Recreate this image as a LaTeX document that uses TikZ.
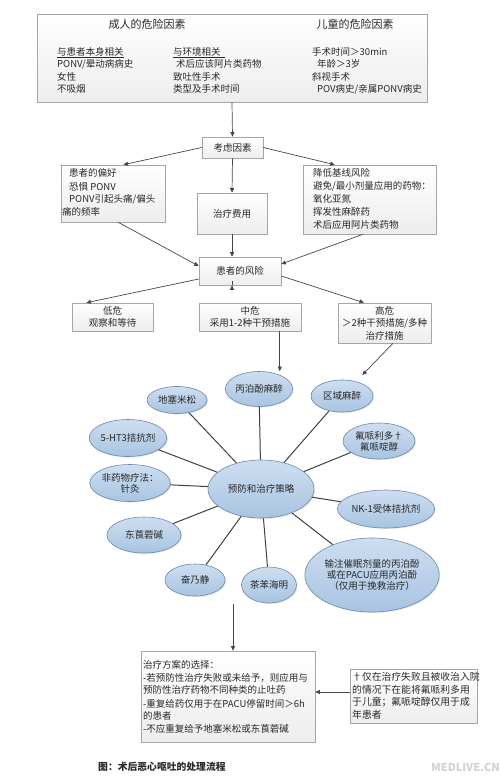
\documentclass[tikz,border=0pt]{standalone}
\usepackage{fontspec}
\setmainfont{Noto Sans CJK SC}
\usetikzlibrary{shapes.geometric,arrows.meta,shadows,calc}
\definecolor{bubfill}{RGB}{168,196,226}
\definecolor{bubtop}{RGB}{206,222,240}
\definecolor{bubline}{RGB}{108,136,170}
\definecolor{txtc}{RGB}{40,40,40}
\newcommand{\bodyf}{\fontsize{9.5}{12}\selectfont}
\newcommand{\titf}{\fontsize{11}{13}\selectfont}
\tikzset{
  box/.style={rectangle, draw=gray!70, line width=0.6pt, top color=white, bottom color=gray!14,
    drop shadow={opacity=0.25, shadow xshift=1.2pt, shadow yshift=-1.2pt}, inner sep=0pt},
  bub/.style={ellipse, draw=bubline, line width=0.6pt, top color=bubtop, bottom color=bubfill,
    inner sep=0pt, align=center, font=\bodyf, text=txtc,
    drop shadow={opacity=0.2, shadow xshift=1pt, shadow yshift=-1pt}},
  arr/.style={draw=gray!55!black, line width=0.7pt, -{Triangle[length=4.5pt,width=4pt]}},
  spoke/.style={draw=black!75, line width=1pt},
  txt/.style={anchor=west, inner sep=0pt, text=txtc, font=\bodyf},
  ctxt/.style={inner sep=0pt, text=txtc, font=\bodyf, align=center},
  uln/.style={draw=txtc, line width=0.5pt},
}
\begin{document}
\begin{tikzpicture}[x=1pt,y=-1pt]
\useasboundingbox (0,0) rectangle (500,778);
% top box
\node[box, minimum width=390pt, minimum height=88pt] (top) at (232,58) {};
\node[ctxt, font=\titf] (ta) at (147,24) {成人的危险因素};
\node[ctxt, font=\titf] (tc) at (355,24) {儿童的危险因素};
\node[txt] (a1) at (57,52) {与患者本身相关};
\node[txt] (a2) at (57,64) {PONV/晕动病病史};
\node[txt] (a3) at (57,77) {女性};
\node[txt] (a4) at (57,89) {不吸烟};
\node[txt] (b1) at (173,52) {与环境相关};
\node[txt] (b2) at (176,64) {术后应该阿片类药物};
\node[txt] (b3) at (173,77) {致吐性手术};
\node[txt] (b4) at (173,89) {类型及手术时间};
\node[txt] (c1) at (312,52) {手术时间＞30min};
\node[txt] (c2) at (317,64) {年龄＞3岁};
\node[txt] (c3) at (312,77) {斜视手术};
\node[txt] (c4) at (317,89) {POV病史/亲属PONV病史};
\draw[uln] ([yshift=-1pt]a1.south west) -- ([yshift=-1pt]a1.south east);
\draw[uln] ([yshift=-1pt]b1.south west) -- ([yshift=-1pt,xshift=4pt]b1.south east);
% consider
\node[box, minimum width=61pt, minimum height=21pt, font=\bodyf, text=txtc] (kl) at (232.5,147.5) {考虑因素};
\node[box, minimum width=104pt, minimum height=57pt] (pref) at (113,193.5) {};
\node[txt] (p1) at (69,173) {患者的偏好};
\node[txt] (p2) at (69,187) {恐惧 PONV};
\node[txt] (p3) at (69,199) {PONV引起头痛/偏头};
\node[txt] (p4) at (62,212) {痛的频率};
\node[box, minimum width=70pt, minimum height=41pt, font=\bodyf, text=txtc] (cost) at (232,213.5) {治疗费用};
\node[box, minimum width=133pt, minimum height=69pt] (base) at (369.5,199.5) {};
\node[txt] (q1) at (313,173) {降低基线风险};
\node[txt] (q2) at (313,186) {避免/最小剂量应用的药物：};
\node[txt] (q3) at (313,199) {氧化亚氮};
\node[txt] (q4) at (313,212) {挥发性麻醉药};
\node[txt] (q5) at (313,225) {术后应用阿片类药物};
% risk
\node[box, minimum width=82pt, minimum height=28pt, font=\bodyf, text=txtc] (risk) at (240,271) {患者的风险};
\node[box, minimum width=81pt, minimum height=28pt] (low) at (112.5,317) {};
\node[ctxt] (l1) at (112.5,311) {低危};
\node[ctxt] (l2) at (112.5,323) {观察和等待};
\node[box, minimum width=102pt, minimum height=28pt] (mid) at (250,317) {};
\node[ctxt] (m1) at (250,311) {中危};
\node[ctxt] (m2) at (250,323) {采用1-2种干预措施};
\node[box, minimum width=93pt, minimum height=40pt] (high) at (384.5,323) {};
\node[ctxt] (h1) at (384.5,311) {高危};
\node[ctxt] (h2) at (384.5,323) {＞2种干预措施/多种};
\node[ctxt] (h3) at (384.5,336) {治疗措施};
% bubbles
\node[bub, minimum width=106pt, minimum height=58pt] (strat) at (261,489) {预防和治疗策略};
\node[bub, minimum width=55pt, minimum height=35pt] (prop) at (259,389) {丙泊酚麻醉};
\node[bub, minimum width=60pt, minimum height=27pt] (dex) at (177,400) {地塞米松};
\node[bub, minimum width=62pt, minimum height=32pt] (reg) at (342,396) {区域麻醉};
\node[bub, minimum width=67pt, minimum height=37pt] (ht) at (128,438) {5-HT3拮抗剂};
\node[bub, minimum width=72pt, minimum height=36pt] (dro) at (379,441) {氟哌利多†\\[-1pt]氟哌啶醇};
\node[bub, minimum width=71pt, minimum height=37pt] (acu) at (130,483) {非药物疗法：\\[-1pt]针灸};
\node[bub, minimum width=75pt, minimum height=38pt] (nk) at (386,509) {NK-1受体拮抗剂};
\node[bub, minimum width=74pt, minimum height=36pt] (sco) at (144,535) {东莨菪碱};
\node[bub, minimum width=60pt, minimum height=32pt] (per) at (195,580) {奋乃静};
\node[bub, minimum width=55pt, minimum height=36pt] (dim) at (269,585) {茶苯海明};
\node[bub, minimum width=114pt, minimum height=74pt] (inf) at (372,575) {输注催眠剂量的丙泊酚\\[-1pt]或在PACU应用丙泊酚\\[-1pt]（仅用于挽救治疗）};
\foreach \b in {prop,dex,reg,ht,dro,acu,nk,sco,per,dim,inf}
  \draw[spoke] (strat) -- (\b);
% plan & note
\node[box, minimum width=174pt, minimum height=91pt] (plan) at (228,696.5) {};
\node[txt] (r1) at (143,665) {治疗方案的选择：};
\node[txt] (r2) at (143,677.5) {-若预防性治疗失败或未给予，则应用与};
\node[txt] (r3) at (143,690) {预防性治疗药物不同种类的止吐药};
\node[txt] (r4) at (143,703.5) {-重复给药仅用于在PACU停留时间＞6h};
\node[txt] (r5) at (143,716) {的患者};
\node[txt] (r6) at (143,729) {-不应重复给予地塞米松或东莨菪碱};
\node[box, minimum width=127pt, minimum height=54pt] (note) at (413.5,696) {};
\node[txt, font=\fontsize{9.8}{12}\selectfont] (n1) at (352,677) {†仅在治疗失败且被收治入院};
\node[txt, font=\fontsize{9.8}{12}\selectfont] (n2) at (352,689.5) {的情况下在能将氟哌利多用};
\node[txt, font=\fontsize{9.8}{12}\selectfont] (n3) at (352,702) {于儿童；氟哌啶醇仅用于成};
\node[txt, font=\fontsize{9.8}{12}\selectfont] (n4) at (352,714.5) {年患者};
% caption
\node[txt, font=\fontsize{9.8}{12}\selectfont\bfseries] (cap) at (98,767) {图：术后恶心呕吐的处理流程};
\node[inner sep=0pt, anchor=east, text=gray!35, font=\fontsize{11}{12}\selectfont\bfseries] (wm) at (500,767) {MEDLIVE.CN};
% arrows
\coordinate (kp) at ($(pref.north west)!0.6!(pref.north east)$);
\coordinate (kb) at ($(base.north west)!0.24!(base.north east)$);
\coordinate (pb) at ($(pref.south west)!0.55!(pref.south east)$);
\coordinate (bb) at ($(base.south west)!0.45!(base.south east)$);
\coordinate (lt) at ($(low.north west)!0.18!(low.north east)$);
\coordinate (ht0) at ($(high.north west)!0.28!(high.north east)$);
\coordinate (hb) at ($(high.south west)!0.59!(high.south east)$);
\coordinate (mb) at ($(mid.south west)!0.79!(mid.south east)$);
\coordinate (pl0) at (233,604);
\draw[arr] (top.south) -- (kl.north);
\draw[arr] (kl.west) -- (kp);
\draw[arr] (kl.east) -- (kb);
\draw[arr] (kl.south) -- (cost.north);
\draw[arr] (pb) -- ([yshift=5pt]risk.west);
\draw[arr] (cost.south) -- (cost.south |- risk.north);
\draw[arr] (bb) -- ([yshift=7pt]risk.east);
\draw[arr] ([yshift=-8pt]risk.west) -- (lt);
\draw[arr] (risk.south -| cost.south) -- (risk.south -| cost.south |- mid.north);
\draw[arr] ([yshift=-5pt]risk.east) -- (ht0);
\draw[arr] (mb) -- (mb |- prop.north);
\draw[arr, shorten >=9pt] (hb) -- (reg);
\draw[arr] (pl0) -- (pl0 |- plan.north);
\draw[arr] ([yshift=4pt]note.west) -- ([yshift=4pt]note.west -| plan.east);
\end{tikzpicture}
\end{document}
